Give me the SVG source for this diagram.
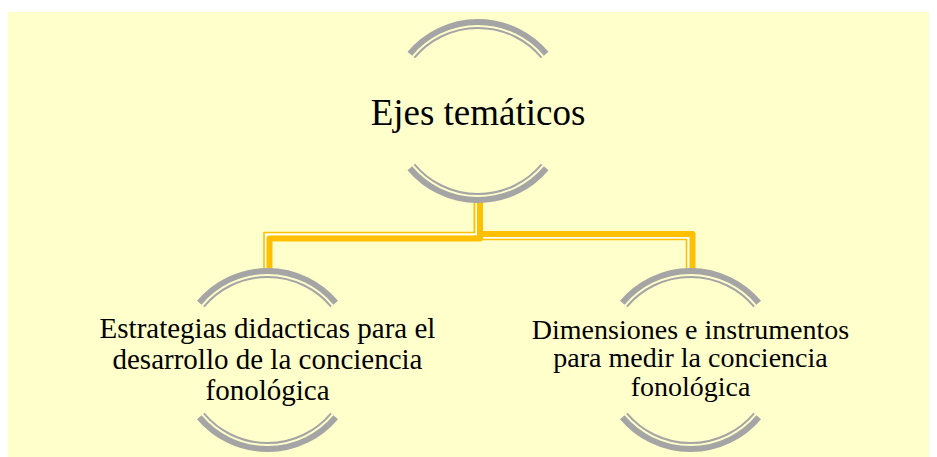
<svg xmlns="http://www.w3.org/2000/svg" xmlns:xlink="http://www.w3.org/1999/xlink" width="937" height="457" viewBox="0 0 937 457">
<style>
.thick{fill:none;stroke:#FFC000;stroke-width:6;stroke-linejoin:round}
.gap{fill:none;stroke:#FFFFFF;stroke-width:1.8;stroke-linejoin:round}
.thin{fill:none;stroke:#FFC000;stroke-width:1.6;stroke-linejoin:round}
.arcT{fill:none;stroke:#A5A5A5;stroke-width:6}
.arcN{fill:none;stroke:#A5A5A5;stroke-width:2}
.t{font-family:"Liberation Serif","Times New Roman",serif;fill:#000;text-anchor:middle}
</style>
<defs>
<g id="ring">
<path class="arcT" d="M-68.2,-57.2 A89,89 0 0 1 68.2,-57.2"/>
<path class="arcN" d="M-63.6,-53.4 A83,83 0 0 1 63.6,-53.4"/>
<path class="arcT" d="M-68.2,57.2 A89,89 0 0 0 68.2,57.2"/>
<path class="arcN" d="M-63.6,53.4 A83,83 0 0 0 63.6,53.4"/>
</g>
</defs>
<rect x="0" y="0" width="937" height="457" fill="#FFFFFF"/>
<rect x="8" y="12" width="921" height="445" fill="#FFFFCC"/>
<g id="connectors">
<g id="conn-right">
<path class="gap" d="M476.1,200 V237.9 H688.1 V271"/>
<path class="thin" d="M474.5,200 V239.5 H686.5 V271"/>
<path class="thick" d="M480,200 V234 H692.5 V271"/>
</g>
<g id="conn-left">
<path class="gap" d="M476.1,200 V234.1 H265.6 V271"/>
<path class="thin" d="M474.5,200 V232.5 H264 V271"/>
<path class="thick" d="M480,200 V238.5 H269.5 V271"/>
</g>
</g>
<g id="node-root">
<use xlink:href="#ring" x="478" y="111"/>
<text class="t" x="478" y="125" font-size="37">Ejes temáticos</text>
</g>
<g id="node-left">
<use xlink:href="#ring" x="267.5" y="360"/>
<text class="t" font-size="29"><tspan x="267.5" y="338">Estrategias didacticas para el</tspan><tspan x="267.5" y="369">desarrollo de la conciencia</tspan><tspan x="267.5" y="400">fonológica</tspan></text>
</g>
<g id="node-right">
<use xlink:href="#ring" x="690.5" y="360"/>
<text class="t" font-size="28"><tspan x="690.5" y="339">Dimensiones e instrumentos</tspan><tspan x="690.5" y="367">para medir la conciencia</tspan><tspan x="690.5" y="396">fonológica</tspan></text>
</g>
</svg>
